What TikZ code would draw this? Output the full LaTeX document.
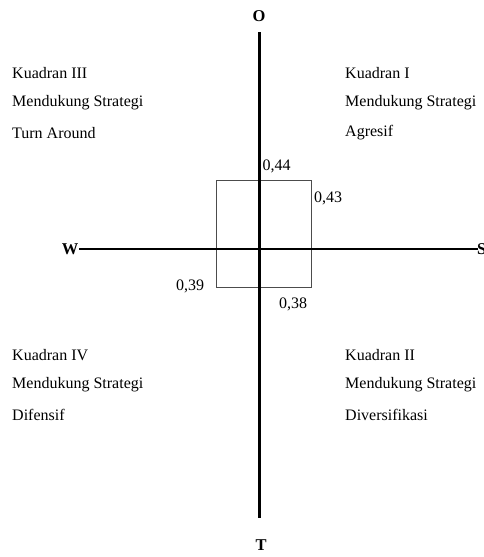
\documentclass[tikz,border=0pt]{standalone}
\usepackage{fontspec}
\setmainfont{Liberation Serif}
\begin{document}
\begin{tikzpicture}[x=1pt,y=-1pt,
  txt/.style={anchor=west,inner sep=0pt,font=\fontsize{16}{18}\selectfont},
  axlab/.style={inner sep=0pt,font=\fontsize{16.5}{18}\selectfont\bfseries},
  val/.style={inner sep=0pt,font=\fontsize{16}{18}\selectfont},
  axis/.style={line width=2.8pt},
  box/.style={draw=black!70,line width=0.8pt}]
\useasboundingbox (0,0) rectangle (483,557);
% axis labels
\node[axlab] (O) at (259,16) {O};
\node[axlab] (T) at (261,545) {T};
\node[axlab] (W) at (70,249) {W};
\node[axlab,anchor=west] (S) at (477,249) {S};
\coordinate (top) at (259.5,32);
\coordinate (bot) at (259.5,518);
\coordinate (left) at (79,249);
\coordinate (right) at (478,249);
% box
\draw[box] (216.5,180.5) rectangle (311.5,287.5);
\draw[axis] (top) -- (bot);
\draw[axis] (left) -- (right);
% values
\node[val] (v44) at (276.5,166) {0,44};
\node[val] (v43) at (328,198) {0,43};
\node[val] (v39) at (190,286) {0,39};
\node[val] (v38) at (293,304) {0,38};
% quadrant texts
\node[txt] (q3a) at (12,73) {Kuadran III};
\node[txt] (q3b) at (12,103) {Mendukung Strategi};
\node[txt] (q3c) at (12,133) {Turn Around};
\node[txt] (q1a) at (345,73) {Kuadran I};
\node[txt] (q1b) at (345,103) {Mendukung Strategi};
\node[txt] (q1c) at (345,133) {Agresif};
\node[txt] (q4a) at (12,355) {Kuadran IV};
\node[txt] (q4b) at (12,385) {Mendukung Strategi};
\node[txt] (q4c) at (12,415) {Difensif};
\node[txt] (q2a) at (345,355) {Kuadran II};
\node[txt] (q2b) at (345,385) {Mendukung Strategi};
\node[txt] (q2c) at (345,415) {Diversifikasi};
\end{tikzpicture}
\end{document}
